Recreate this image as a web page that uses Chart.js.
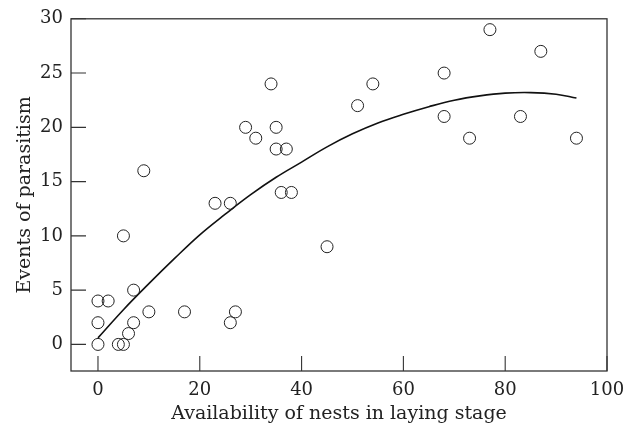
<!DOCTYPE html>
<html>
<head>
<meta charset="utf-8">
<script src="https://cdn.jsdelivr.net/npm/chart.js@4"></script>
<style>
html,body{margin:0;padding:0;background:#fff;}
#wrap{width:640px;height:429px;position:relative;}
</style>
</head>
<body>
<div id="wrap"><canvas id="c" width="640" height="429"></canvas></div>
<script>
// Observed points (availability of nests, events of parasitism)
const nestX = [0,0,0,2,4,5,5,6,7,7,9,10,17,23,26,26,27,29,31,34,35,35,36,37,38,45,51,54,68,68,73,77,83,87,94];
const eventsY = [0,2,4,4,0,0,10,1,2,5,16,3,3,13,13,2,3,20,19,24,20,18,14,18,14,9,22,24,25,21,19,29,21,27,19];
// Fitted curve
const curveX = [0,5,10,15,20,25,30,35,40,45,50,55,60,65,70,75,80,85,90,94];
const curveY = [0.6,3.2,5.6,7.9,10.1,12.0,13.8,15.4,16.8,18.2,19.4,20.4,21.2,21.9,22.5,22.9,23.15,23.2,23.05,22.7];
const xTicks = [0,20,40,60,80,100];
const yTicks = [0,5,10,15,20,25,30];
const xTitle = 'Availability of nests in laying stage';
const yTitle = 'Events of parasitism';

const ink = '#222';
const frame = '#333';

const framePlugin = {
  id: 'frameTicks',
  afterDraw(chart) {
    const {ctx, chartArea: a, scales} = chart;
    ctx.save();
    ctx.strokeStyle = frame;
    ctx.lineWidth = 1.3;
    ctx.strokeRect(a.left, a.top, a.right - a.left, a.bottom - a.top);
    ctx.lineWidth = 1.1;
    ctx.beginPath();
    scales.x.ticks.forEach(t => {
      const px = scales.x.getPixelForValue(t.value);
      ctx.moveTo(px, a.bottom);
      ctx.lineTo(px, a.bottom - 15);
    });
    scales.y.ticks.forEach(t => {
      const py = scales.y.getPixelForValue(t.value);
      ctx.moveTo(a.left, py);
      ctx.lineTo(a.left + 15, py);
    });
    ctx.stroke();
    ctx.restore();
  }
};

new Chart(document.getElementById('c'), {
  type: 'scatter',
  data: {
    datasets: [
      {
        type: 'line',
        data: curveX.map((x, i) => ({x, y: curveY[i]})),
        borderColor: '#111',
        borderWidth: 1.6,
        pointRadius: 0,
        tension: 0.4,
        fill: false,
        order: 2
      },
      {
        data: nestX.map((x, i) => ({x, y: eventsY[i]})),
        pointRadius: 6,
        pointBorderWidth: 1,
        borderColor: ink,
        backgroundColor: 'rgba(255,255,255,0)',
        pointBackgroundColor: 'rgba(255,255,255,0)',
        order: 1
      }
    ]
  },
  options: {
    responsive: false,
    animation: false,
    devicePixelRatio: 1,
    layout: {padding: {left: 0, right: 33, top: 13, bottom: 0}},
    plugins: {legend: {display: false}, tooltip: {enabled: false}},
    scales: {
      x: {
        type: 'linear',
        min: -5.3,
        max: 100,
        afterBuildTicks: s => { s.ticks = xTicks.map(v => ({value: v})); },
        afterFit: s => { s.height = 58; },
        grid: {display: false, drawTicks: false},
        border: {display: false},
        ticks: {color: ink, padding: 9, font: {family: 'DejaVu Serif', size: 18}, maxRotation: 0},
        title: {display: true, text: xTitle, color: ink, font: {family: 'DejaVu Serif', size: 19}, padding: {top: 0, bottom: 4}}
      },
      y: {
        type: 'linear',
        min: -2.45,
        max: 30,
        afterBuildTicks: s => { s.ticks = yTicks.map(v => ({value: v})); },
        afterFit: s => { s.width = 71; },
        grid: {display: false, drawTicks: false},
        border: {display: false},
        ticks: {color: ink, padding: 8, font: {family: 'DejaVu Serif', size: 18}},
        title: {display: true, text: yTitle, color: ink, font: {family: 'DejaVu Serif', size: 19}, padding: {top: 13.6, bottom: 0}}
      }
    }
  },
  plugins: [framePlugin]
});
</script>
</body>
</html>
